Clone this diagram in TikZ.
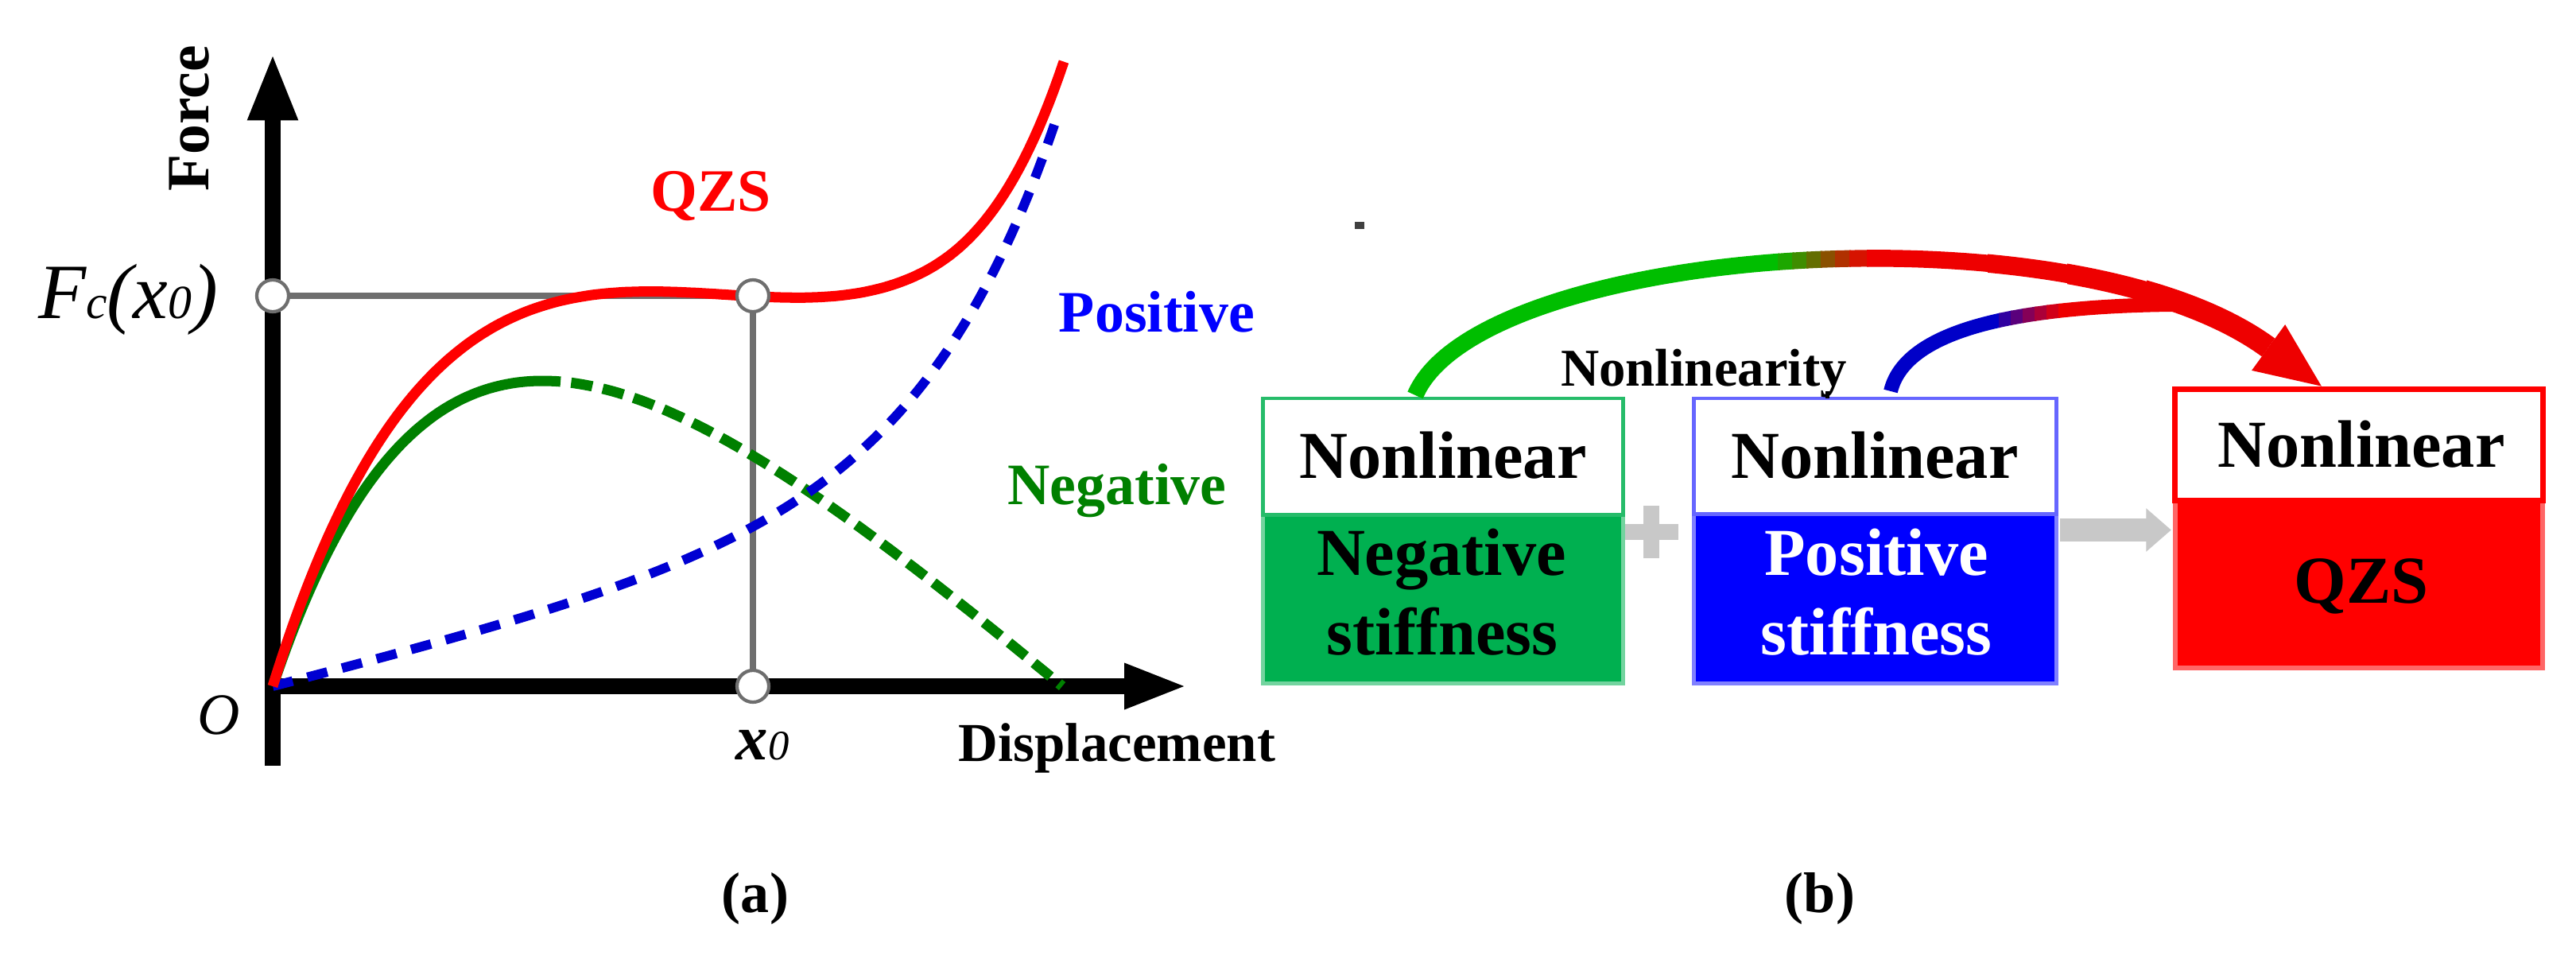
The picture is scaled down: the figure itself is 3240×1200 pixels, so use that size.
\documentclass[tikz,border=0pt]{standalone}
\usepackage{fontspec}
\setmainfont{Liberation Serif}
\usetikzlibrary{arrows.meta,calc}
\definecolor{qzsred}{RGB}{255,0,0}
\definecolor{neggreen}{RGB}{0,128,0}
\definecolor{posblue}{RGB}{0,0,210}
\definecolor{boxgreen}{RGB}{0,176,80}
\definecolor{boxblue}{RGB}{0,0,255}
\definecolor{boxred}{RGB}{255,0,0}
\definecolor{guidegray}{RGB}{110,110,110}
\definecolor{softgray}{RGB}{200,200,200}
\definecolor{arcgreen}{RGB}{0,190,0}
\definecolor{arcred}{RGB}{238,0,0}
\definecolor{arcblue}{RGB}{0,0,200}
\begin{document}
\begin{tikzpicture}[x=0.01cm, y=-0.01cm,
  declare function={
    hb(\u)=0.25*\u+1.545*(exp(0.0058*\u)-1);
    hg(\u)=884.6*(1-exp(-\u/230))-0.879*\u;
    hc(\u)=45*(max(\u-800,0)/195)^3;
  },
  axisline/.style={line width=5.6pt, black, line cap=butt},
  guideline/.style={line width=2.2pt, guidegray},
  marker/.style={circle, draw=guidegray, line width=1.2pt, fill=white, minimum size=0.40cm, inner sep=0pt},
  redcurve/.style={line width=3.7pt, qzsred, line join=round},
  greencurve/.style={line width=3.7pt, neggreen, line join=round},
  bluecurve/.style={line width=3.4pt, posblue, dash pattern=on 7.4pt off 5.4pt},
  lbl/.style={inner sep=0pt, font=\bfseries\fontsize{21pt}{25pt}\selectfont},
  boxpart/.style={rectangle, inner sep=0pt, outer sep=0pt},
  boxlbl/.style={inner sep=0pt, font=\bfseries\fontsize{24pt}{28pt}\selectfont},
  bigarc/.style={line width=6pt, line cap=butt},
  smallarc/.style={line width=5.1pt, line cap=butt},
]
\fill[white] (0,0) rectangle (3240,1200);
\useasboundingbox (0,0) rectangle (3240,1200);

% ---------- (a) graph ----------
\coordinate (orig) at (343,863);
\coordinate (ytop) at (343,67);
\coordinate (ybot) at (343,963);
\coordinate (xstart) at (333,863);
\coordinate (xtip) at (1494,863);
\draw[axisline, -{Triangle[length=24pt,width=16.5pt]}] (ybot) -- (ytop);
\draw[axisline, -{Triangle[length=22.7pt,width=14.8pt]}] (xstart) -- (xtip);

\coordinate (pF) at (343,372);
\coordinate (pX) at (947,372);
\coordinate (pA) at (947,863);
\draw[guideline] (pF) -- (pX) -- (pA);

% curves
\draw[greencurve] plot[domain=0:335, samples=60, variable=\u] ({343+\u},{863-hg(\u)});
\draw[greencurve, dash pattern=on 7.7pt off 3.8pt] plot[domain=335:993, samples=120, variable=\u] ({343+\u},{863-hg(\u)});
\draw[bluecurve] plot[domain=0:988, samples=150, variable=\u] ({343+\u},{863-hb(\u)});
\draw[redcurve] plot[domain=0:995, samples=160, variable=\u] ({343+\u},{863-hg(\u)-hb(\u)-hc(\u)});

\node[marker] (mF) at (pF) {};
\node[marker] (mX) at (pX) {};
\node[marker] (mA) at (pA) {};

% labels
\node[inner sep=0pt, anchor=base, font=\itshape\fontsize{28pt}{32pt}\selectfont] (fclbl) at (161,400)
  {F{\fontsize{17pt}{17pt}\selectfont c}(x{\fontsize{17pt}{17pt}\selectfont 0})};
\node[lbl, rotate=90, anchor=base, font=\bfseries\fontsize{21.5pt}{26pt}\selectfont] (forcelbl) at (262,149) {Force};
\node[inner sep=0pt, anchor=base, font=\itshape\fontsize{21pt}{25pt}\selectfont] (olbl) at (275,923) {O};
\node[inner sep=0pt, anchor=base] (x0lbl) at (959,955)
  {{\bfseries\itshape\fontsize{23pt}{26pt}\selectfont x}{\itshape\fontsize{15pt}{18pt}\selectfont 0}};
\node[lbl, anchor=base, font=\bfseries\fontsize{19.6pt}{24pt}\selectfont] (displbl) at (1405,957) {Displacement};
\node[lbl, anchor=base, text=qzsred, font=\bfseries\fontsize{21.5pt}{25pt}\selectfont] (qzslbl) at (894,265) {QZS};
\node[lbl, anchor=base, text=boxblue] (poslbl) at (1455,417) {Positive};
\node[lbl, anchor=base, text=neggreen] (neglbl) at (1405,634) {Negative};

% captions
\node[lbl, anchor=base, font=\bfseries\fontsize{20.5pt}{24pt}\selectfont] (capa) at (950,1147) {(a)};
\node[lbl, anchor=base, font=\bfseries\fontsize{20.5pt}{24pt}\selectfont] (capb) at (2289,1147) {(b)};

% ---------- (b) boxes ----------
\node[boxpart, fill=boxgreen, draw=boxgreen!55, line width=1.4pt, minimum width=4.52cm, minimum height=2.12cm] (gbot) at (1815,753) {};
\node[boxpart, fill=white, draw=boxgreen!85, line width=1.4pt, minimum width=4.52cm, minimum height=1.46cm] (gtop) at (1815,574) {};
\node[boxpart, fill=boxblue, draw=boxblue!50, line width=1.4pt, minimum width=4.55cm, minimum height=2.13cm] (bbot) at (2358.5,752.5) {};
\node[boxpart, fill=white, draw=boxblue!60, line width=1.4pt, minimum width=4.55cm, minimum height=1.45cm] (btop) at (2358.5,573.5) {};
\node[boxpart, fill=boxred, draw=boxred!60, line width=1.6pt, minimum width=4.62cm, minimum height=2.11cm] (rbot) at (2967,734.5) {};
\node[boxpart, fill=white, draw=boxred, line width=2pt, minimum width=4.62cm, minimum height=1.39cm] (rtop) at (2967,559.5) {};

\node[boxlbl, anchor=base] (gt) at (1815,601) {Nonlinear};
\node[boxlbl, anchor=base] (bt) at (2358,601) {Nonlinear};
\node[boxlbl, anchor=base] (rt) at (2970,587) {Nonlinear};
\node[boxlbl, anchor=base] (gb1) at (1813,723) {Negative};
\node[boxlbl, anchor=base] (gb2) at (1814,823) {stiffness};
\node[boxlbl, anchor=base, text=white] (bb1) at (2360,723) {Positive};
\node[boxlbl, anchor=base, text=white] (bb2) at (2360,823) {stiffness};
\node[boxlbl, anchor=base] (rb) at (2970,758) {QZS};

\node[lbl, anchor=base, font=\bfseries\fontsize{19pt}{23pt}\selectfont] (nonlin) at (2143,485) {Nonlinearity};
\fill[black] (2296,492) rectangle (2301,501);

% plus and gray arrow
\coordinate (plusc) at (2077,669);
\draw[softgray, line width=5.8pt] ($(plusc)+(-33,0)$) -- ($(plusc)+(34,0)$);
\draw[softgray, line width=5.8pt] ($(plusc)+(0,-33)$) -- ($(plusc)+(0,33)$);
\draw[softgray, line width=8pt, -{Triangle[length=9pt,width=15pt]}]
  ($(bbot.east)+(5,-86)$) -- ($(rbot.west)+(-5,-68)$);

% arcs
\coordinate (a1) at ($(gtop.north)+(-35,-4)$);
\coordinate (tipT) at ($(rtop.north)+(-44,-2)$);
\coordinate (a2) at ($(tipT)+(-70,-51)$);
\coordinate (s1) at ($(btop.north)+(19.5,-9)$);
\coordinate (merge) at (2735,383);

\foreach \xa/\xb/\p in {2300/2516/100, 2514/2531/80, 2529/2546/62, 2544/2561/44, 2559/2576/28, 2574/2591/12, 2589/2800/0}{
  \begin{scope}
    \clip (\xa,0) rectangle (\xb,1200);
    \draw[smallarc, draw=arcblue!\p!arcred] (s1) .. controls +(17,-72) and +(-215,2) .. (merge);
  \end{scope}
}
\foreach \xa/\xb/\p/\w in {1500/2238/100/6, 2236/2256/88/6, 2254/2274/74/6, 2272/2292/58/6, 2290/2310/42/6, 2308/2328/26/6, 2326/2350/10/6, 2348/2502/0/6.1, 2500/2602/0/6.6, 2600/2702/0/7.2, 2700/2900/0/8}{
  \begin{scope}
    \clip (\xa,0) rectangle (\xb,1200);
    \draw[bigarc, line width=\w pt, draw=arcgreen!\p!arcred] (a1) .. controls +(80,-187) and +(-250,-183) .. (a2);
  \end{scope}
}
\draw[arcred, line width=7pt, -{Triangle[length=24.6pt,width=18.2pt]}] (a2) -- (tipT);

% small stray mark
\fill[black!75] (1704,279) rectangle (1716,288);
\end{tikzpicture}
\end{document}
